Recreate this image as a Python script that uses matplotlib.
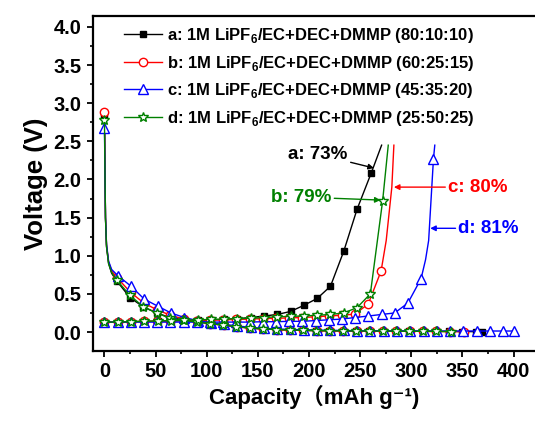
import numpy as np
import matplotlib
matplotlib.use("Agg")
import matplotlib.pyplot as plt
from matplotlib.ticker import MultipleLocator

plt.rcParams['font.family'] = ['Liberation Sans', 'Noto Sans CJK SC', 'DejaVu Sans']
plt.rcParams['font.weight'] = 'bold'
plt.rcParams['axes.labelweight'] = 'bold'
plt.rcParams['mathtext.fontset'] = 'custom'
plt.rcParams['mathtext.rm'] = 'Liberation Sans:bold'
plt.rcParams['mathtext.bf'] = 'Liberation Sans:bold'

# ---- data (capacity in mAh/g, voltage in V) ----
labels = [r'a: 1M LiPF$_\mathbf{6}$/EC+DEC+DMMP (80:10:10)',
          r'b: 1M LiPF$_\mathbf{6}$/EC+DEC+DMMP (60:25:15)',
          r'c: 1M LiPF$_\mathbf{6}$/EC+DEC+DMMP (45:35:20)',
          r'd: 1M LiPF$_\mathbf{6}$/EC+DEC+DMMP (25:50:25)']

# discharge (points 1..5 are the steep drop, drawn without markers)
a_dis_x = [0, 0.5, 1, 2, 4, 7, 12, 25, 38, 51, 64, 77, 90, 103, 116, 129, 142, 155, 168,
           181, 194, 207, 220, 233, 246, 259, 272, 285, 298, 311, 324, 337, 350, 363, 369]
a_dis_v = [2.85, 2.1, 1.5, 1.12, 0.9, 0.77, 0.67, 0.45, 0.33, 0.25, 0.19, 0.16, 0.135, 0.11,
           0.09, 0.07, 0.052, 0.04, 0.032, 0.026, 0.022, 0.018, 0.016, 0.015, 0.014, 0.013,
           0.012, 0.011, 0.01, 0.009, 0.008, 0.007, 0.006, 0.005, 0.005]
b_dis_x = [0, 0.5, 1, 2, 4, 7, 12.5, 25.5, 38.5, 51.5, 64.5, 77.5, 90.5, 103.5, 116.5, 129.5,
           142.5, 155.5, 168.5, 181.5, 194.5, 207.5, 220.5, 233.5, 246.5, 259.5, 272.5, 285.5,
           298.5, 311.5, 324.5, 337.5, 352]
b_dis_v = [2.89, 2.1, 1.5, 1.14, 0.92, 0.8, 0.71, 0.52, 0.38, 0.29, 0.22, 0.17, 0.14, 0.11,
           0.09, 0.07, 0.052, 0.04, 0.032, 0.026, 0.022, 0.018, 0.016, 0.015, 0.014, 0.013,
           0.012, 0.011, 0.01, 0.009, 0.008, 0.006, 0.005]
c_dis_x = [0, 0.5, 1, 2, 4, 7, 13, 26, 39, 52, 65, 78, 91, 104, 117, 130, 143, 156, 169, 182,
           195, 208, 221, 234, 247, 260, 273, 286, 299, 312, 325, 338, 351, 364, 377, 390, 400]
c_dis_v = [2.67, 2.05, 1.5, 1.15, 0.93, 0.82, 0.74, 0.6, 0.43, 0.34, 0.25, 0.19, 0.15, 0.12,
           0.1, 0.08, 0.06, 0.048, 0.04, 0.034, 0.03, 0.026, 0.022, 0.02, 0.018, 0.017, 0.016,
           0.015, 0.014, 0.014, 0.013, 0.013, 0.013, 0.013, 0.013, 0.013, 0.013]
d_dis_x = [0, 0.5, 1, 2, 4, 7, 12, 25, 38, 51, 64, 77, 90, 103, 116, 129, 142, 155, 168, 181,
           194, 207, 220, 233, 246, 259, 272, 285, 298, 311, 324, 339]
d_dis_v = [2.78, 2.05, 1.48, 1.12, 0.9, 0.78, 0.68, 0.48, 0.33, 0.25, 0.18, 0.155, 0.13, 0.11,
           0.09, 0.07, 0.052, 0.04, 0.032, 0.026, 0.022, 0.018, 0.016, 0.015, 0.014, 0.013,
           0.012, 0.011, 0.01, 0.009, 0.008, 0.006]

# charge (the steep rise at the end has a few points without markers)
a_chg_x = [0, 13, 26, 39, 52, 65, 78, 91, 104, 117, 130, 143, 156, 169, 182, 195, 208, 221,
           234, 247, 261, 271]
a_chg_v = [0.13, 0.13, 0.135, 0.14, 0.14, 0.145, 0.15, 0.155, 0.16, 0.165, 0.175, 0.19, 0.21,
           0.23, 0.27, 0.35, 0.44, 0.6, 1.06, 1.61, 2.09, 2.45]
b_chg_x = [0, 12.9, 25.8, 38.7, 51.6, 64.5, 77.4, 90.3, 103.2, 116.1, 129, 141.9, 154.8, 167.7,
           180.6, 193.5, 206.4, 219.3, 232.2, 245.1, 258, 270.5, 275.5, 281, 283]
b_chg_v = [0.13, 0.13, 0.135, 0.14, 0.14, 0.145, 0.15, 0.15, 0.155, 0.16, 0.165, 0.17, 0.175,
           0.18, 0.185, 0.19, 0.2, 0.21, 0.22, 0.235, 0.37, 0.8, 1.2, 1.9, 2.45]
c_chg_x = [0, 12.9, 25.8, 38.7, 51.6, 64.5, 77.4, 90.3, 103.2, 116.1, 129, 141.9, 154.8, 167.7,
           180.6, 193.5, 206.4, 219.3, 232.2, 245.1, 258, 270.9, 283.8, 296.7, 309.6, 314, 317,
           321.7, 323]
c_chg_v = [0.13, 0.13, 0.13, 0.13, 0.13, 0.13, 0.13, 0.13, 0.13, 0.13, 0.13, 0.13, 0.135,
           0.135, 0.14, 0.14, 0.15, 0.16, 0.17, 0.19, 0.21, 0.23, 0.25, 0.38, 0.7, 0.95, 1.2,
           2.27, 2.45]
d_chg_x = [0, 13, 26, 39, 52, 65, 78, 91, 104, 117, 130, 143, 156, 169, 182, 195, 208, 221,
           234, 247, 260, 272, 277.5]
d_chg_v = [0.13, 0.13, 0.135, 0.14, 0.145, 0.15, 0.155, 0.16, 0.165, 0.17, 0.175, 0.18, 0.19,
           0.2, 0.205, 0.21, 0.22, 0.23, 0.25, 0.32, 0.5, 1.72, 2.45]

# indices of charge points that carry no marker
a_chg_plain = [21]
b_chg_plain = [22, 23, 24]
c_chg_plain = [25, 26, 28]
d_chg_plain = [22]

notes = ['a: 73%', 'b: 79%', 'c: 80%', 'd: 81%']

colors = ['black', 'red', 'blue', 'green']
markers = ['s', 'o', '^', '*']
msizes = [4.5, 6, 6.5, 7.5]
mfaces = ['black', 'white', 'white', 'white']

dis = [(a_dis_x, a_dis_v), (b_dis_x, b_dis_v), (c_dis_x, c_dis_v), (d_dis_x, d_dis_v)]
chg = [(a_chg_x, a_chg_v, a_chg_plain), (b_chg_x, b_chg_v, b_chg_plain),
       (c_chg_x, c_chg_v, c_chg_plain), (d_chg_x, d_chg_v, d_chg_plain)]

fig = plt.figure(figsize=(5.35, 4.21), dpi=100)
ax = fig.add_axes([0.1733, 0.167, 0.8267, 0.795])

for i in range(4):
    dx, dv = dis[i]
    cx, cv, plain = chg[i]
    style = dict(color=colors[i], marker=markers[i], ms=msizes[i], mfc=mfaces[i],
                 mec=colors[i], mew=1.0, lw=1.0)
    ax.plot(dx, dv, markevery=[0] + list(range(6, len(dx))), label=labels[i], **style)
    ax.plot(cx, cv, markevery=[k for k in range(len(cx)) if k not in plain], **style)

arrow = dict(arrowstyle='-|>', lw=1.0, mutation_scale=8, shrinkA=0, shrinkB=0)
ax.annotate(notes[0], xy=(263.5, 2.15), xytext=(238, 2.33), ha='right', va='center',
            fontsize=13.5, color='black', arrowprops=dict(color='black', **arrow))
ax.annotate(notes[1], xy=(270, 1.73), xytext=(222, 1.77), ha='right', va='center',
            fontsize=13.5, color='green', arrowprops=dict(color='green', **arrow))
ax.annotate(notes[2], xy=(283, 1.90), xytext=(336, 1.90), ha='left', va='center',
            fontsize=13.5, color='red', arrowprops=dict(color='red', **arrow))
ax.annotate(notes[3], xy=(318.5, 1.36), xytext=(346, 1.36), ha='left', va='center',
            fontsize=13.5, color='blue', arrowprops=dict(color='blue', **arrow))

ax.set_xlim(-11.5, 421)
ax.set_ylim(-0.245, 4.144)
ax.xaxis.set_major_locator(MultipleLocator(50))
ax.xaxis.set_minor_locator(MultipleLocator(25))
ax.yaxis.set_major_locator(MultipleLocator(0.5))
ax.yaxis.set_minor_locator(MultipleLocator(0.25))
ax.yaxis.set_major_formatter(matplotlib.ticker.FormatStrFormatter('%.1f'))
ax.tick_params(which='major', direction='out', length=4.5, width=1.3, labelsize=14.5)
ax.tick_params(which='minor', direction='out', length=2.5, width=1.2)
ax.spines['right'].set_visible(False)
for s in ['left', 'bottom', 'top']:
    ax.spines[s].set_linewidth(1.6)

ax.set_xlabel('Capacity（mAh g⁻¹)', fontsize=16, labelpad=3)
ax.set_ylabel('Voltage (V)', fontsize=18.5, labelpad=4)

ax.legend(loc='upper left', bbox_to_anchor=(0.048, 1.0), frameon=False, fontsize=12,
          handlelength=2.3, handletextpad=0.3, labelspacing=0.52, borderaxespad=0.2)

fig.savefig('out.png', dpi=100)
